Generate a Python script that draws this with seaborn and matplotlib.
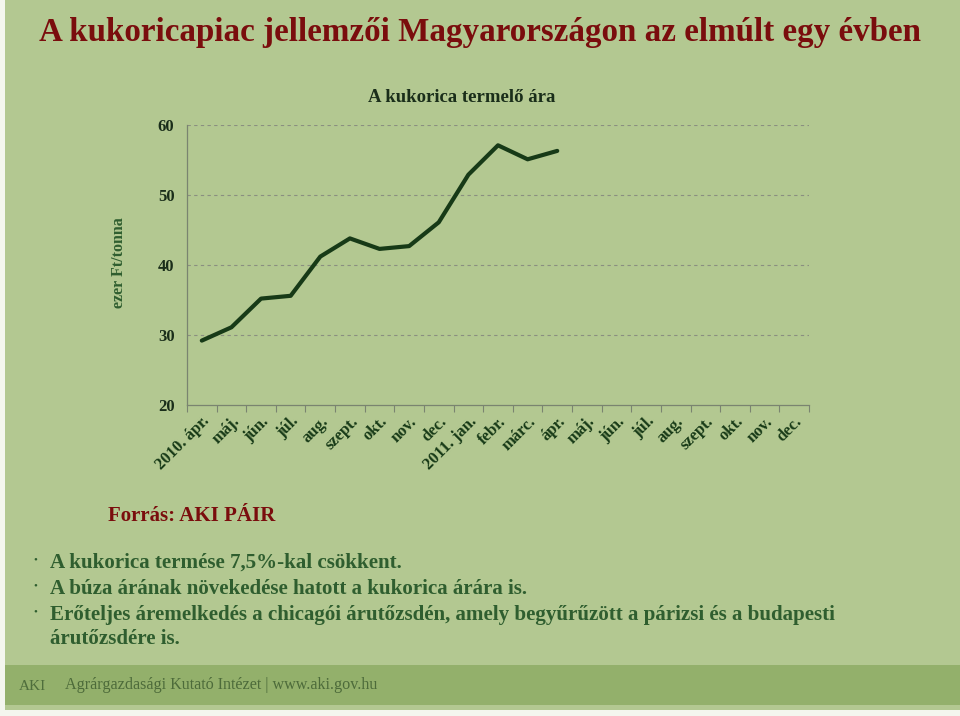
import numpy as np
import pandas as pd
import matplotlib
matplotlib.use("Agg")
import matplotlib.pyplot as plt
import seaborn as sns
from matplotlib.patches import Rectangle

# ---- data ----
months = ["2010. ápr.", "máj.", "jún.", "júl.", "aug.", "szept.", "okt.", "nov.", "dec.",
          "2011. jan.", "febr.", "márc.", "ápr.", "máj.", "jún.", "júl.", "aug.", "szept.",
          "okt.", "nov.", "dec."]
prices = [29.2, 31.1, 35.2, 35.6, 41.2, 43.8, 42.3, 42.7, 46.1, 52.9, 57.1, 55.1, 56.3]
yticks = [20, 30, 40, 50, 60]

BG = "#b3c891"
DKGREEN = "#173a17"
TXTGREEN = "#2f5e2f"
RED = "#7a0d0d"

sns.set_theme(style="white")
plt.rcParams["font.family"] = ["Liberation Serif", "DejaVu Serif"]

fig = plt.figure(figsize=(9.6, 7.16), dpi=100)
fig.patch.set_facecolor(BG)

ax = fig.add_axes([187/960, 1-405/716, (809-187)/960, (405-125)/716])
ax.set_facecolor(BG)

df = pd.DataFrame({"idx": np.arange(len(prices)), "price": prices})
sns.lineplot(data=df, x="idx", y="price", ax=ax, color=DKGREEN, linewidth=3.0, sort=False)

n = len(months)
ax.set_xlim(-0.5, n - 0.5)
ax.set_ylim(yticks[0], yticks[-1])
ax.set_yticks(yticks)
ax.set_yticklabels([str(v) for v in yticks], fontsize=12, fontweight="bold", color="#1a2e1a")
for v in yticks[1:]:
    ax.axhline(v, color="#8a8f80", linestyle=(0, (3, 3)), linewidth=0.8, zorder=0)

ax.set_xticks(np.arange(-0.5, n, 1.0))
ax.set_xticklabels([])
ax.set_xticks(np.arange(n), minor=True)
ax.set_xticklabels(months, minor=True, rotation=45, ha="right", rotation_mode="anchor",
                   fontsize=12, fontweight="bold", color=DKGREEN)
ax.tick_params(axis="x", which="major", length=5, direction="out", color="#7a8470", width=0.8, bottom=True)
ax.tick_params(axis="x", which="minor", length=0, pad=6)
ax.tick_params(axis="y", length=0, direction="out", color="#7a8470", width=0.8, left=True, pad=9)

for s in ["top", "right"]:
    ax.spines[s].set_visible(False)
for s in ["left", "bottom"]:
    ax.spines[s].set_color("#7a8470")
    ax.spines[s].set_linewidth(0.9)

ax.set_xlabel("")
ax.set_ylabel("ezer Ft/tonna", fontsize=11.5, fontweight="bold", color=TXTGREEN)
ax.yaxis.set_label_coords(-0.097, 0.51)

# titles
fig.text(480/960, 1-33/716, "A kukoricapiac jellemzői Magyarországon az elmúlt egy évben",
         ha="center", va="center", fontsize=23.8, fontweight="bold", color=RED)
fig.text(462/960, 1-98/716, "A kukorica termelő ára", ha="center", va="center",
         fontsize=13.5, fontweight="bold", color="#1a2e1a")

fig.text(108/960, 1-516/716, "Forrás: AKI PÁIR", ha="left", va="center",
         fontsize=15, fontweight="bold", color=RED)

bullets = [
    ("A kukorica termése 7,5%-kal csökkent.", 563),
    ("A búza árának növekedése hatott a kukorica árára is.", 589),
    ("Erőteljes áremelkedés a chicagói árutőzsdén, amely begyűrűzött a párizsi és a budapesti", 615),
]
for txt, y in bullets:
    fig.text(35/960, 1-(y-3)/716, "•", ha="center", va="center", fontsize=8, color=TXTGREEN)
    fig.text(50/960, 1-y/716, txt, ha="left", va="center", fontsize=15.1, fontweight="bold", color=TXTGREEN)
fig.text(50/960, 1-639/716, "árutőzsdére is.", ha="left", va="center", fontsize=15.1,
         fontweight="bold", color=TXTGREEN)

# footer band
fig.patches.append(Rectangle((5/960, 1-705/716), 955/960, 40/716, transform=fig.transFigure,
                             facecolor="#93b06b", edgecolor="none", zorder=0))
fig.patches.append(Rectangle((0, 0), 5/960, 1, transform=fig.transFigure,
                             facecolor="#f4f6ee", edgecolor="none", zorder=0))
fig.patches.append(Rectangle((0, 0), 1, 6/716, transform=fig.transFigure,
                             facecolor="#f4f6ee", edgecolor="none", zorder=0))
fig.text(32/960, 1-687/716, "AKI", ha="center", va="center", fontsize=11, color="#4f6e3c")
fig.text(65/960, 1-685/716, "Agrárgazdasági Kutató Intézet | www.aki.gov.hu", ha="left",
         va="center", fontsize=11.6, color="#4d6b3a")

fig.savefig("out.png", dpi=100, facecolor=fig.get_facecolor())
